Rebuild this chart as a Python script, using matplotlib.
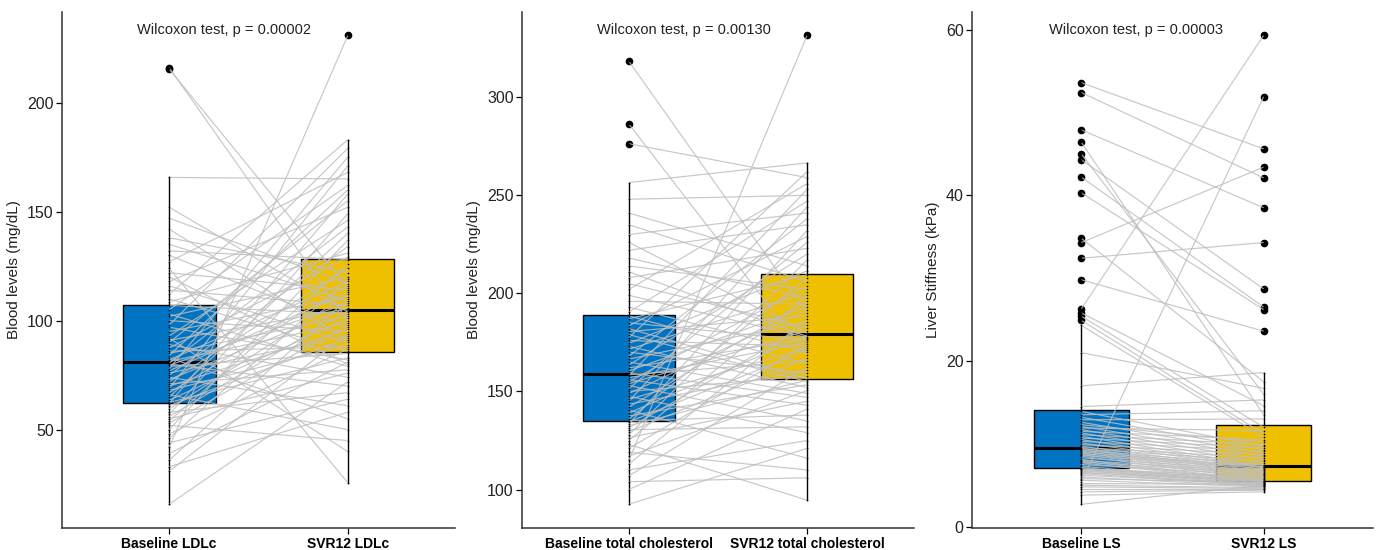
import matplotlib
matplotlib.use("Agg")
import matplotlib.pyplot as plt
import matplotlib.transforms as mtransforms
import numpy as np

plt.rcParams['font.family'] = ['Liberation Sans', 'DejaVu Sans']

# ---------------- data ----------------
ldl_baseline = [15.8, 31, 33, 36, 39, 42, 44, 46, 48, 50, 52, 53, 54, 55, 56, 57, 58, 59.5, 61, 62,
                62.5, 63.5, 65, 66, 67, 68, 69, 70, 71, 72, 73, 74, 75, 76, 77, 78, 79, 79.5, 80, 80.5,
                81.3, 82, 83, 84, 85, 86, 87.5, 89, 90, 91, 92, 93, 95, 97, 98, 100, 102, 103, 105, 107,
                108.6, 110, 112, 114, 116, 118, 120, 122, 124, 127, 130, 132, 135, 138, 142, 147, 152,
                165.7, 215.4, 216]
ldl_svr12 = [72, 94, 58, 110, 81, 230.8, 64, 119, 87, 137, 45, 98, 126, 76, 104.5, 149, 67, 112, 92, 158,
             83, 101, 140, 50, 116, 89, 171, 96, 77.5, 124, 106, 61, 134, 93, 113, 175, 85, 108, 70, 143,
             99, 118, 55, 160, 102, 88, 129.2, 74, 155, 105.5, 40, 146, 111, 82, 179, 95, 120, 79, 162, 103,
             131, 86, 183, 107, 90, 152, 80, 114, 25.7, 168, 97, 128, 109, 122, 91, 117, 104,
             165, 115, 100]

tc_baseline = [92.5, 100, 104, 107, 110, 113, 115, 117, 119, 121, 123, 125, 126.5, 128, 129.5, 130.5, 131.5,
               132.5, 133.5, 134.5, 135, 136, 137.5, 139, 140.5, 142, 143.5, 145, 146, 147.5, 149, 150,
               151.5, 153, 154, 155, 156, 157, 158, 158.5, 159.5, 160.5, 162, 163.5, 165, 166.5, 168, 170,
               171.5, 173, 174.5, 176, 177.5, 179, 180.5, 182, 183.5, 185, 187, 188.5, 190.5, 193, 196,
               199, 202, 205, 208, 211, 214, 218, 222, 226, 230, 235, 241, 248, 256.5, 276.3, 286.3, 318.3]
tc_svr12 = [121, 141, 106, 162.5, 125, 187, 331.5, 150.5, 110, 174, 94.6, 199, 145, 217, 167, 132, 184,
            155.8, 232, 171, 138, 208, 153.5, 178.7, 116, 196, 161, 244, 172, 129, 191.5, 158, 226, 135,
            181, 204, 143, 175, 253, 165.5, 147, 193, 177, 220, 149, 185.5, 238, 159.5, 200.5, 152, 211.5,
            173, 262, 155, 188.5, 156.5, 229, 176, 209.5, 164, 247, 170, 194.5, 177.5, 256, 182.5, 223,
            178, 202, 197.5, 235, 179.7, 241, 206, 214, 250, 266.5, 259, 168.5, 190]

ls_baseline = [2.7, 3.8, 4.2, 4.5, 4.8, 5.0, 5.2, 5.4, 5.6, 5.8, 6.0, 6.2, 6.4, 6.5, 6.6, 6.7, 6.8, 6.9,
               6.95, 7.0, 7.13, 7.3, 7.5, 7.7, 7.8, 7.9, 8.0, 8.1, 8.3, 8.5, 8.6, 8.7, 8.8, 8.9, 9.0, 9.1,
               9.2, 9.3, 9.4, 9.45, 9.55, 9.7, 9.9, 10.1, 10.3, 10.5, 10.7, 10.9, 11.1, 11.3, 11.5, 11.7,
               11.9, 12.1, 12.3, 12.6, 12.9, 13.2, 13.5, 13.9, 14.5, 17, 21, 24.3,
               24.9, 25.4, 25.8, 26.3, 29.8, 32.4, 34.3, 34.8, 40.3, 42.2, 44.3, 45.0, 46.4, 47.9, 52.4, 53.6]
ls_svr12 = [5.0, 4.2, 4.4, 4.5, 4.6, 4.7, 5.1, 51.9, 4.8, 5.3, 4.85, 5.2, 4.9, 5.45, 4.95, 5.6, 5.05, 5.8,
            5.15, 6.0, 5.25, 5.35, 6.2, 5.4, 6.4, 5.48, 6.6, 5.55, 6.8, 5.7, 7.0, 5.9, 7.15, 6.1, 7.25, 6.3,
            7.5, 6.5, 7.9, 6.7, 8.3, 6.9, 8.7, 7.1, 9.1, 7.2, 9.5, 7.35, 9.9, 7.7, 10.5, 8.1, 11.6, 8.5,
            10.2, 8.9, 13.0, 9.3, 14.0, 9.7, 15.3, 18.6, 16.7, 10.8,
            11.2, 12.0, 14.6, 59.3, 23.6, 34.3, 43.4, 17.5, 26.2, 26.5, 28.7, 16.0, 13.5, 38.5, 42.1, 45.6]

panels = [
    dict(base=ldl_baseline, svr=ldl_svr12, labels=["Baseline LDLc", "SVR12 LDLc"],
         ylabel="Blood levels (mg/dL)", yticks=[50, 100, 150, 200], ptext="Wilcoxon test, p = 0.00002"),
    dict(base=tc_baseline, svr=tc_svr12, labels=["Baseline total cholesterol", "SVR12 total cholesterol"],
         ylabel="Blood levels (mg/dL)", yticks=[100, 150, 200, 250, 300], ptext="Wilcoxon test, p = 0.00130"),
    dict(base=ls_baseline, svr=ls_svr12, labels=["Baseline LS", "SVR12 LS"],
         ylabel="Liver Stiffness (kPa)", yticks=[0, 20, 40, 60], ptext="Wilcoxon test, p = 0.00003"),
]

box_colors = ["#0073C2", "#EFC000"]
line_color = "#BEBEBE"

W, H = 1378, 550
fig = plt.figure(figsize=(W / 100, H / 100), dpi=100)

# axes positions in pixels: (left, right)
ax_px = [(62, 455), (522, 914), (972, 1373)]
top_px, bottom_px = 12, 527.7

for (l, r), p in zip(ax_px, panels):
    ax = fig.add_axes([l / W, 1 - bottom_px / H, (r - l) / W, (bottom_px - top_px) / H])
    base = np.array(p["base"], dtype=float)
    svr = np.array(p["svr"], dtype=float)

    bp = ax.boxplot([base, svr], positions=[1, 2], widths=0.52, whis=1.5, patch_artist=True,
                    showcaps=False, zorder=1,
                    boxprops=dict(edgecolor="black", linewidth=1.0),
                    whiskerprops=dict(color="black", linewidth=1.0),
                    medianprops=dict(color="black", linewidth=2.2),
                    flierprops=dict(marker="o", markerfacecolor="black", markeredgecolor="black",
                                    markersize=4.5, linestyle="none"))
    for patch, c in zip(bp["boxes"], box_colors):
        patch.set_facecolor(c)

    # paired lines
    for b, s in zip(base, svr):
        ax.plot([1, 2], [b, s], color=line_color, linewidth=0.85, alpha=0.85, zorder=3,
                solid_capstyle="butt")
    # small points
    ax.scatter(np.ones_like(base), base, s=1.5, color="black", zorder=4, linewidths=0)
    ax.scatter(np.full_like(svr, 2), svr, s=1.5, color="black", zorder=4, linewidths=0)

    allv = np.concatenate([base, svr])
    lo, hi = allv.min(), allv.max()
    rng = hi - lo
    ax.set_ylim(lo - 0.05 * rng, hi + 0.05 * rng)
    ax.set_xlim(0.4, 2.6)
    ax.set_yticks(p["yticks"])
    ax.set_xticks([1, 2])
    ax.set_xticklabels(p["labels"], fontsize=10, fontweight="bold", color="black")
    ax.tick_params(axis="y", labelsize=11.5, length=4, width=0.9, pad=2, labelcolor="#222222")
    ax.tick_params(axis="x", length=4, width=0.9, pad=3)
    ax.set_ylabel(p["ylabel"], fontsize=11, color="#222222", labelpad=4)

    for side in ["top", "right"]:
        ax.spines[side].set_visible(False)
    for side in ["left", "bottom"]:
        ax.spines[side].set_linewidth(1.1)
        ax.spines[side].set_color("#333333")

    ax.text(0.82, 0.965, p["ptext"],
            transform=mtransforms.blended_transform_factory(ax.transData, ax.transAxes),
            ha="left", va="center", fontsize=10.5, color="#222222")

fig.savefig("out.png", dpi=100)
